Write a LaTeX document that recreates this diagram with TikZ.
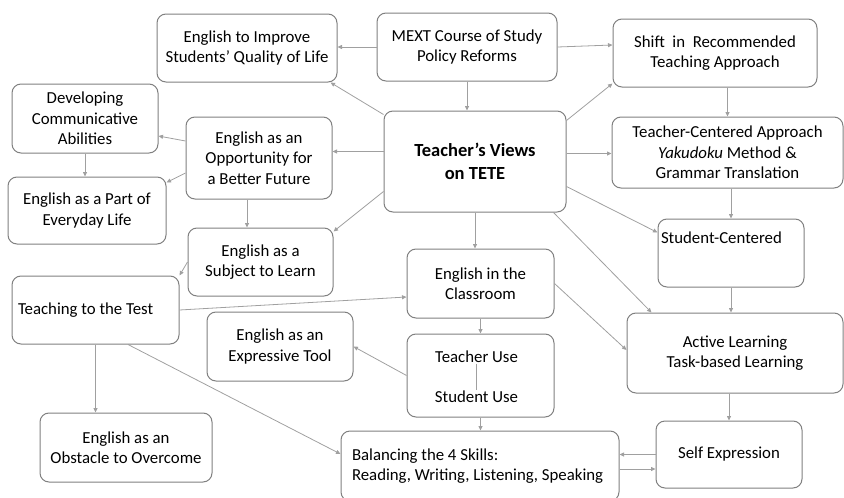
\documentclass[tikz,border=0pt]{standalone}
\usepackage{fontspec}
\setmainfont{Carlito}
\usetikzlibrary{arrows.meta}
\definecolor{boxgray}{HTML}{808080}
\definecolor{linkgray}{HTML}{A0A0A0}
\begin{document}
\begin{tikzpicture}[
        x=1pt, y=-1pt,
        concept/.style={rectangle, rounded corners=9pt, draw=boxgray, line width=1pt, fill=white, align=center, inner sep=2pt, font=\fontsize{16.8}{20.5}\selectfont},
        plain/.style={inner sep=0.5pt, font=\fontsize{16.8}{20.5}\selectfont},
        link/.style={-{Triangle[length=4.5pt, width=4pt]}, linkgray, line width=0.8pt}
    ]
        \useasboundingbox (0,0) rectangle (844,498);

        % Concepts (centre and right column)
        \node[concept, minimum width=182pt, minimum height=101pt, font=\fontsize{18.5}{23}\selectfont\bfseries] (tv) at (475,161.5) {Teacher’s Views\\on TETE};
        \node[concept, minimum width=180pt, minimum height=68pt] (mext) at (467,47) {MEXT Course of Study\\Policy Reforms};
        \node[concept, minimum width=204pt, minimum height=68pt] (shift) at (715,53) {Shift~ in~ Recommended\\Teaching Approach};
        \node[concept, minimum width=231pt, minimum height=71pt] (tc) at (727.5,152.5) {Teacher-Centered Approach\\\textit{Yakudoku} Method \&\\Grammar Translation};
        \node[concept, minimum width=146pt, minimum height=68pt, text width=140pt, align=flush left, text depth=30pt] (sc) at (731,253) {Student-Centered};
        \node[concept, minimum width=216pt, minimum height=80pt] (act) at (735,353) {Active Learning\\Task-based Learning};
        \node[concept, minimum width=146pt, minimum height=67pt] (self) at (729,454.5) {Self Expression};
        \node[concept, minimum width=147pt, minimum height=69pt] (cls) at (480.5,283.5) {English in the\\Classroom};
        \node[concept, minimum width=147pt, minimum height=83pt] (use) at (480.5,375.5) {};
        \node[plain] (tuse) at (476.5,357) {Teacher Use};
        \node[plain] (suse) at (476.5,397) {Student Use};
        \node[concept, minimum width=278pt, minimum height=70pt, text width=256pt, align=flush left] (bal) at (480,466) {Balancing the 4 Skills:\\Reading, Writing, Listening, Speaking};

        % Concepts (left side)
        \node[concept, minimum width=180pt, minimum height=68pt] (eti) at (247,48) {English to Improve\\Students’ Quality of Life};
        \node[concept, minimum width=146pt, minimum height=82pt] (opp) at (259,158) {English as an\\Opportunity for\\a Better Future};
        \node[concept, minimum width=146pt, minimum height=69pt] (dev) at (85,118.5) {Developing\\Communicative\\Abilities};
        \node[concept, minimum width=158pt, minimum height=67pt] (part) at (87,210.5) {English as a Part of\\Everyday Life};
        \node[concept, minimum width=145pt, minimum height=68pt] (subj) at (260.5,262) {English as a\\Subject to Learn};
        \node[concept, minimum width=167pt, minimum height=68pt, text width=155pt, align=flush left] (ttt) at (95.5,310) {Teaching to the Test};
        \node[concept, minimum width=146pt, minimum height=69pt] (expr) at (280,346.5) {English as an\\Expressive Tool};
        \node[concept, minimum width=172pt, minimum height=69pt] (obs) at (126,447.5) {English as an\\Obstacle to Overcome};

        % Straight links between anchors
        \foreach \a/\b in {use.west/expr.east, cls.south/use.north, subj.west/ttt.north east} {
            \draw[link] (\a) -- (\b);
        }
        \draw[link] (ttt.east) -- ([yshift=-13.5pt]cls.west);
        \draw[link] (cls.east) -- ([yshift=3pt]act.west);

        % Vertical links
        \draw[link] (mext.south) -- (mext.south |- tv.north);
        \draw[link] (tv.south) -- (tv.south |- cls.north);
        \draw[link] (shift.south -| tc.north) -- (tc.north);
        \draw[link] (tc.south -| sc.north) -- (sc.north);
        \draw[link] (sc.south) -- (sc.south |- act.north);
        \draw[link] (act.south -| self.north) -- (self.north);
        \draw[link] (use.south) -- (use.south |- bal.north);
        \draw[link] (dev.south) -- (dev.south |- part.north);
        \draw[link] ([xshift=-12pt]opp.south) -- ([xshift=-12pt]opp.south |- subj.north);
        \draw[link] (ttt.south) -- (ttt.south |- obs.north);
        \draw[linkgray, line width=0.8pt] (tuse) -- (suse);

        % Horizontal links
        \draw[link] (mext.west) -- (eti.east |- mext.west);
        \draw[link] (mext.east) -- ([yshift=8pt]shift.west);
        \draw[link] ([yshift=10pt]tv.west) -- ([yshift=10pt]tv.west -| opp.east);
        \draw[link] ([yshift=8pt]tv.east) -- ([yshift=8pt]tv.east -| tc.west);
        \draw[link] (self.west) -- (self.west -| bal.east);
        \draw[link] ([yshift=-3pt]bal.east) -- ([yshift=-3pt]bal.east -| self.west);

        % Diagonal links
        \draw[link] ([yshift=-4pt]tv.north west) -- ([xshift=-7pt]eti.south east);
        \draw[link] ([yshift=-10pt]tv.north east) -- ([yshift=4pt]shift.south west);
        \draw[link] ([yshift=-30pt]tv.west) -- ([yshift=-4pt]subj.north east);
        \draw[link] ([yshift=-25pt]tv.east) -- ([yshift=-14pt]sc.north west);
        \draw[link] ([xshift=-13pt]tv.south east) -- ([xshift=25pt]act.north west);
        \draw[link] ([yshift=17pt]opp.west) -- ([yshift=-17.5pt]dev.east);
        \draw[link] ([yshift=-15pt]opp.west) -- ([yshift=-6pt]part.north east);
        \draw[link] ([xshift=32.5pt]ttt.south) -- ([yshift=12pt]bal.west);
    \end{tikzpicture}
\end{document}
